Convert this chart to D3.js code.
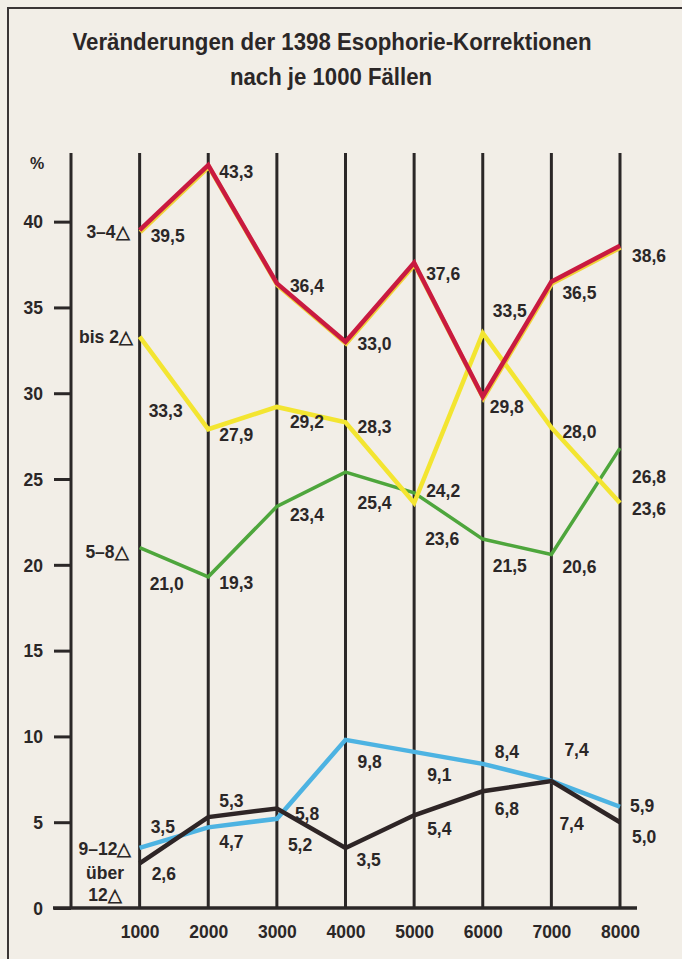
<!DOCTYPE html>
<html>
<head>
<meta charset="utf-8">
<script src="https://cdn.jsdelivr.net/npm/d3@7"></script>
<style>
  html, body { margin: 0; padding: 0; background: #f2eee7; }
  svg { display: block; }
  text { font-family: "Liberation Sans", Arimo, Arial, sans-serif; font-weight: bold; fill: #2b2727; }
</style>
</head>
<body>
<script>
// ---- data ----
const titleLines = ["Veränderungen der 1398 Esophorie-Korrektionen", "nach je 1000 Fällen"];
const cases = [1000, 2000, 3000, 4000, 5000, 6000, 7000, 8000];
const yTicks = [0, 5, 10, 15, 20, 25, 30, 35, 40];
const seriesNames = ["bis 2△", "3–4△", "5–8△", "9–12△", "über 12△"];
const bis2 = [33.3, 27.9, 29.2, 28.3, 23.6, 33.5, 28.0, 23.6];
const d34 = [39.5, 43.3, 36.4, 33.0, 37.6, 29.8, 36.5, 38.6];
const d58 = [21.0, 19.3, 23.4, 25.4, 24.2, 21.5, 20.6, 26.8];
const d912 = [3.5, 4.7, 5.2, 9.8, 9.1, 8.4, 7.4, 5.9];
const ueber12 = [2.6, 5.3, 5.8, 3.5, 5.4, 6.8, 7.4, 5.0];

// ---- layout / style (not data) ----
const W = 682, H = 959;
const FS = 17.5;
const colors = ["#f3e531", "#c91a40", "#4ea63c", "#4db3e2", "#2e2526"];
// label offsets [dx, dy] relative to the point, per series
const labelOffsets = [
  [[9, 80], [11, 12], [13, 21], [12, 11], [11, 42], [10, -16], [11, 10], [12, 12]],
  [[11, 12], [11, 13], [13, 9], [12, 8], [12, 17], [7, 16], [11, 17], [12, 16]],
  [[10, 42], [11, 12], [13, 15], [12, 37], [12, 4], [10, 33], [11, 18], [12, 35]],
  [[11, -15], [11, 21], [11, 32], [12, 28], [13, 29], [12, -6], [13, -25], [10, 5]],
  [[12, 17], [11, -10], [18, 12], [11, 18], [13, 20], [12, 24], [8, 49], [12, 21]]
];
const seriesLabelPos = [[106, 343], [108, 238], [107, 558], [105, 855]];

const svg = d3.select("body").append("svg").attr("width", W).attr("height", H);
svg.append("rect").attr("width", W).attr("height", H).attr("fill", "#f2eee7");

// frame
svg.append("path").attr("d", `M8,${H} L8,8 L${W},8`).attr("fill", "none")
  .attr("stroke", "#3a3535").attr("stroke-width", 2);

// title
svg.append("text").attr("x", 332).attr("y", 50).attr("text-anchor", "middle")
  .attr("font-size", 23).attr("textLength", 519).attr("lengthAdjust", "spacingAndGlyphs")
  .text(titleLines[0]);
svg.append("text").attr("x", 331).attr("y", 85).attr("text-anchor", "middle")
  .attr("font-size", 23).attr("textLength", 202).attr("lengthAdjust", "spacingAndGlyphs")
  .text(titleLines[1]);

const x = d3.scaleLinear().domain([0, 8000]).range([71, 620]);
const y = d3.scaleLinear().domain([0, 44]).range([908, 153]);

// vertical lines
svg.append("g").selectAll("line").data([0].concat(cases)).join("line")
  .attr("x1", d => x(d)).attr("x2", d => x(d))
  .attr("y1", y(44)).attr("y2", y(0))
  .attr("stroke", "#2b2727").attr("stroke-width", 3);

// y axis
const yAxis = svg.append("g").attr("transform", `translate(${x(0)},0)`)
  .call(d3.axisLeft(y).tickValues(yTicks).tickSize(17).tickPadding(11).tickFormat(d3.format("d")));
yAxis.select(".domain").remove();
yAxis.selectAll(".tick line").attr("stroke", "#2b2727").attr("stroke-width", 3);
yAxis.selectAll(".tick text").attr("font-size", FS).attr("font-family", null).attr("fill", "#2b2727").attr("dy", "0.36em");
svg.append("text").attr("x", 37).attr("y", 169).attr("text-anchor", "middle").attr("font-size", 16).text("%");

// x axis
const xAxis = svg.append("g").attr("transform", `translate(0,${y(0)})`)
  .call(d3.axisBottom(x).tickValues(cases).tickSize(0).tickPadding(18).tickFormat(d3.format("d")));
xAxis.select(".domain").remove();
xAxis.selectAll(".tick text").attr("font-size", FS).attr("font-family", null).attr("fill", "#2b2727");
svg.append("line").attr("x1", x(0) - 18).attr("x2", x(8000) + 17)
  .attr("y1", y(0)).attr("y2", y(0)).attr("stroke", "#2b2727").attr("stroke-width", 3.5);

// series lines
const allSeries = [bis2, d34, d58, d912, ueber12];
const line = d3.line().x((d, i) => x(cases[i])).y(d => y(d));
const drawOrder = [2, 0, 1, 3, 4];
drawOrder.forEach(si => {
  if (si === 1) {
    // slight yellow misregistration edge under the red line, as in the print
    svg.append("path").datum(allSeries[si]).attr("d", line)
      .attr("transform", "translate(0.6,1.8)")
      .attr("fill", "none").attr("stroke", "#f0d23a").attr("stroke-width", 4.5);
  }
  svg.append("path").datum(allSeries[si]).attr("d", line)
    .attr("fill", "none").attr("stroke", colors[si])
    .attr("stroke-width", si === 2 ? 3.5 : 4.5).attr("stroke-linejoin", "miter");
});

// value labels
allSeries.forEach((vals, si) => {
  svg.append("g").selectAll("text").data(vals).join("text")
    .attr("x", (d, i) => x(cases[i]) + labelOffsets[si][i][0])
    .attr("y", (d, i) => y(d) + labelOffsets[si][i][1])
    .attr("font-size", FS)
    .text(d => d3.format(".1f")(d).replace(".", ","));
});

// series names
[0, 1, 2, 3].forEach(si => {
  svg.append("text").attr("x", seriesLabelPos[si][0]).attr("y", seriesLabelPos[si][1])
    .attr("text-anchor", "middle").attr("font-size", FS).text(seriesNames[si]);
});
const u = seriesNames[4].split(" ");
svg.append("text").attr("x", 105).attr("y", 879).attr("text-anchor", "middle").attr("font-size", FS).text(u[0]);
svg.append("text").attr("x", 105).attr("y", 901).attr("text-anchor", "middle").attr("font-size", FS).text(u[1]);
</script>
</body>
</html>
